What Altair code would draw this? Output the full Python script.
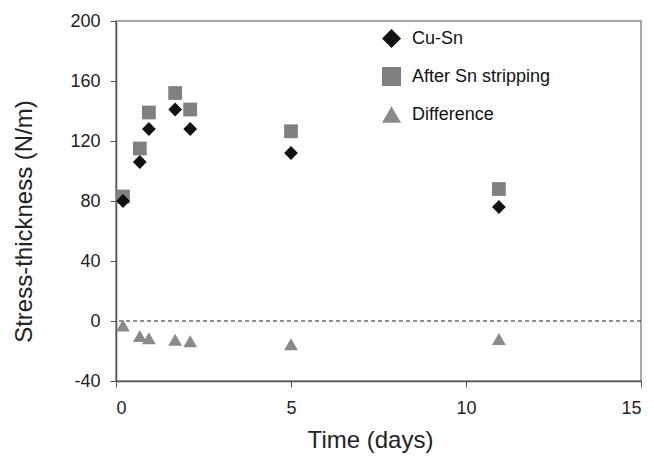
import altair as alt
import pandas as pd

days = [0.2, 0.68, 0.94, 1.69, 2.12, 5.0, 10.94]
cu_sn = [80, 106, 128, 141, 128, 112, 76]
after_strip = [83, 115, 139, 152, 141, 126.5, 88]
difference = [-3, -10, -11.5, -12.5, -13.5, -15.5, -12]
series = ["Cu-Sn", "After Sn stripping", "Difference"]
series_colors = ["#111111", "#808080", "#8a8a8a"]
series_shapes = ["diamond", "square", "triangle-up"]
x_ticks = [0, 5, 10, 15]
y_ticks = [-40, 0, 40, 80, 120, 160, 200]

rows = []
for name, vals in zip(series, [cu_sn, after_strip, difference]):
    for d, v in zip(days, vals):
        rows.append({"day": d, "value": v, "series": name})
df = pd.DataFrame(rows)

xenc = alt.X("day:Q", scale=alt.Scale(domain=[0, 15], nice=False),
             axis=alt.Axis(values=x_ticks, title="Time (days)", labelPadding=12,
                           labelExpr="datum.value + ''",
                           titleX=254, titleY=66, titleBaseline="alphabetic", titleAlign="center"))
yenc = alt.Y("value:Q", scale=alt.Scale(domain=[-40, 200], nice=False),
             axis=alt.Axis(values=y_ticks, title="Stress-thickness (N/m)", labelPadding=10,
                           labelExpr="datum.value + ''",
                           titleX=-85, titleY=200, titleAngle=270, titleBaseline="alphabetic",
                           titleAlign="center"))

zero = alt.Chart(pd.DataFrame({"value": [0]})).mark_rule(
    strokeDash=[4, 3], color="#222222", strokeWidth=1.2
).encode(y=alt.Y("value:Q"))

points = alt.Chart(df).mark_point(filled=True, opacity=1, size=190).encode(
    x=xenc,
    y=yenc,
    color=alt.Color("series:N", scale=alt.Scale(domain=series, range=series_colors),
                    legend=alt.Legend(title=None)),
    shape=alt.Shape("series:N", scale=alt.Scale(domain=series, range=series_shapes),
                    legend=alt.Legend(title=None)),
    order=alt.Order("series:N"),
)

chart = alt.layer(zero, points).properties(
    width=525, height=360,
    autosize=alt.AutoSizeParams(type="none"),
    padding={"left": 108, "top": 13, "right": 5, "bottom": 74},
).configure_view(
    stroke="#8a8a8a", strokeWidth=1.5
).configure_axis(
    grid=False, domainColor="#555555", domainWidth=1.5, tickColor="#555555", tickSize=6,
    labelFont="Liberation Sans", labelFontSize=18, labelColor="#222222",
    titleFont="Liberation Sans", titleFontSize=24, titleFontWeight="normal", titleColor="#222222",
).configure_legend(
    orient="none", legendX=266, legendY=8, symbolSize=360, padding=0,
    labelFont="Liberation Sans", labelFontSize=18, labelColor="#111111",
    rowPadding=19, labelOffset=11, symbolStrokeWidth=0,
)

chart.save("out.html", embed_options={"renderer": "svg", "actions": False})
